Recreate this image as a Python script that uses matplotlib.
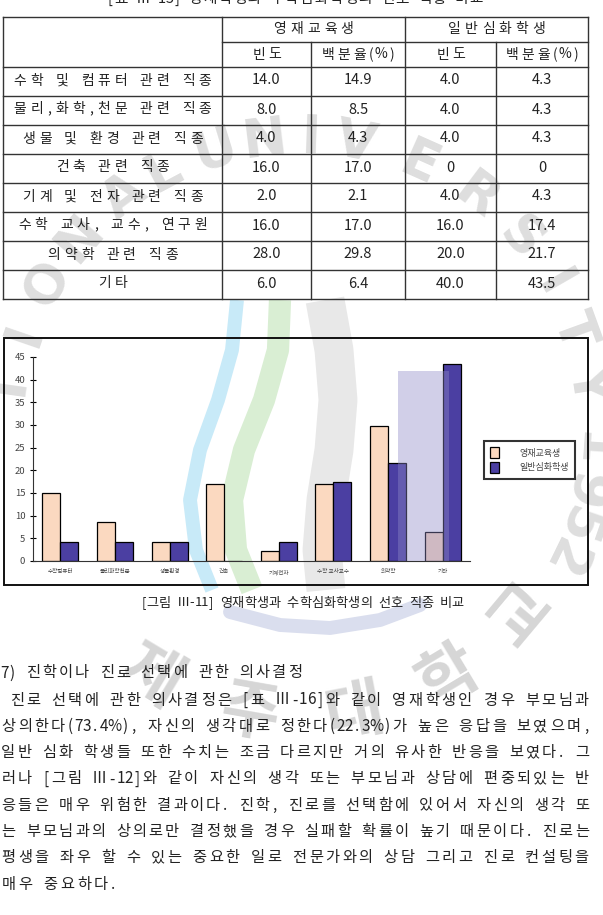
import numpy as np
import matplotlib.pyplot as plt
from matplotlib.patches import Rectangle

plt.rcParams['font.family'] = ['Noto Sans CJK KR', 'DejaVu Sans']

W, H = 603, 915

# ---- data ----
jobs = ['수학 및 컴퓨터 관련 직종', '물리,화학,천문 관련 직종', '생물 및 환경 관련 직종',
        '건축 관련 직종', '기계 및 전자 관련 직종', '수학 교사, 교수, 연구원',
        '의약학 관련 직종', '기타']
short_labels = ['수학컴퓨터', '물리화학천문', '생물환경', '건축', '기계전자',
                '수학 교사교수', '의약학', '기타']
groups = ['영재교육생', '일반심화학생']
sub_heads = ['빈도', '백분율(%)', '빈도', '백분율(%)']
gifted_freq = [14.0, 8.0, 4.0, 16.0, 2.0, 16.0, 28.0, 6.0]
gifted_pct = [14.9, 8.5, 4.3, 17.0, 2.1, 17.0, 29.8, 6.4]
general_freq = [4.0, 4.0, 4.0, 0, 4.0, 16.0, 20.0, 40.0]
general_pct = [4.3, 4.3, 4.3, 0, 4.3, 17.4, 21.7, 43.5]

table_title = '[표 Ⅲ-15] 영재학생과 수학심화학생의 선호 직종 비교'
fig_caption = '[그림 Ⅲ-11] 영재학생과 수학심화학생의 선호 직종 비교'
heading = '7) 진학이나 진로 선택에 관한 의사결정'
body = [
    ' 진로 선택에 관한 의사결정은 [표 Ⅲ-16]와 같이 영재학생인 경우 부모님과',
    '상의한다(73.4%), 자신의 생각대로 정한다(22.3%)가 높은 응답을 보였으며,',
    '일반 심화 학생들 또한 수치는 조금 다르지만 거의 유사한 반응을 보였다. 그',
    '러나 [그림 Ⅲ-12]와 같이 자신의 생각 또는 부모님과 상담에 편중되있는 반',
    '응들은 매우 위험한 결과이다. 진학, 진로를 선택함에 있어서 자신의 생각 또',
    '는 부모님과의 상의로만 결정했을 경우 실패할 확률이 높기 때문이다. 진로는',
    '평생을 좌우 할 수 있는 중요한 일로 전문가와의 상담 그리고 진로 컨설팅을',
    '매우 중요하다.',
]

# background watermark of the scanned page
wm_arc = 'TIONALUNIVERSITY1952'
wm_arc_deg = [172, 161, 150, 139, 127, 118, 107, 97, 88, 79, 66, 53, 41, 30, 20, 9,
              -4, -12, -19, -26]
wm_name = '제주대학교'
wm_name_deg = [-121, -100, -79, -59, -40]

PINK = '#fbd9c0'
NAVY = '#4b3fa2'
INK = '#222222'


def char_w(ch):
    if ch == '%':
        return 0.8
    return 1.0 if ord(ch) >= 0x1100 else 0.5


def grid_text(ax, x, y, s, unit, ha='left', **kw):
    # Gulim-like layout: hangul takes a full cell, ascii half a cell
    total = sum(char_w(c) for c in s) * unit
    if ha == 'center':
        x = x - total / 2
    for ch in s:
        w = char_w(ch) * unit
        if ch != ' ':
            ax.text(x + w / 2, y, ch, ha='center', va='center', **kw)
        x += w


def fmt(v):
    return '0' if v == 0 else f'{v:.1f}'


fig = plt.figure(figsize=(W / 100, H / 100), dpi=100)
page = fig.add_axes([0, 0, 1, 1], zorder=0)
page.set_xlim(0, W)
page.set_ylim(H, 0)
page.axis('off')

# ---- watermark ----
cx, cy = 300, 430
for ch, d in zip(wm_arc, wm_arc_deg):
    a = np.radians(d)
    r = 292
    page.text(cx + r * np.cos(a), cy - r * np.sin(a), ch, fontsize=38, fontweight='bold',
              color='#dedede', ha='center', va='center', rotation=d - 90,
              rotation_mode='anchor', family='DejaVu Sans', zorder=0)
for ch, d in zip(wm_name, wm_name_deg):
    a = np.radians(d)
    r = 288
    page.text(cx + r * np.cos(a), cy - r * np.sin(a), ch, fontsize=46, fontweight='bold',
              color='#d6d6d6', ha='center', va='center', rotation=d + 90,
              rotation_mode='anchor', zorder=0)
blue_y = np.array([300, 350, 400, 450, 500, 550, 590])
page.plot([237, 232, 218, 200, 190, 196, 212], blue_y, color='#c8eaf8', lw=10,
          solid_capstyle='butt', zorder=0)
page.plot([280, 278, 264, 244, 232, 236, 252], blue_y, color='#d9eed3', lw=16,
          solid_capstyle='butt', zorder=0)
page.plot([325, 334, 338, 334, 326, 322, 326], blue_y, color='#e8e8e8', lw=28,
          solid_capstyle='butt', zorder=0)
page.plot([230, 280, 330, 380, 420], [612, 625, 628, 620, 605], color='#dadeee', lw=10,
          solid_capstyle='round', zorder=0)

# ---- table ----
grid_text(page, 295, -1, table_title, 14.8, ha='center', fontsize=10.5, color=INK)

cols = [3, 222, 311, 405, 496, 588]
top, mid, head_bot, row_h = 17, 42, 67, 29
bottom = head_bot + row_h * len(jobs)
lc = '#333333'
page.plot([cols[0], cols[-1]], [top, top], color=lc, lw=1)
page.plot([cols[1], cols[-1]], [mid, mid], color=lc, lw=1)
for i in range(len(jobs) + 1):
    y = head_bot + i * row_h
    page.plot([cols[0], cols[-1]], [y, y], color=lc, lw=1)
for j, x in enumerate(cols):
    y0 = top if j in (0, 1, 3, 5) else mid
    page.plot([x, x], [y0, bottom], color=lc, lw=1)

tfs = 10
grid_text(page, (cols[1] + cols[3]) / 2, (top + mid) / 2, groups[0], 16.8, ha='center', fontsize=tfs, color=INK)
grid_text(page, (cols[3] + cols[5]) / 2, (top + mid) / 2, groups[1], 16.8, ha='center', fontsize=tfs, color=INK)
for j, s in enumerate(sub_heads):
    grid_text(page, (cols[j + 1] + cols[j + 2]) / 2, (mid + head_bot) / 2, s, 15.5,
              ha='center', fontsize=tfs, color=INK)

for i, job in enumerate(jobs):
    yc = head_bot + row_h * (i + 0.5) - 1
    grid_text(page, (cols[0] + cols[1]) / 2, yc, job, 16.8, ha='center', fontsize=tfs, color=INK)
    vals = [gifted_freq[i], gifted_pct[i], general_freq[i], general_pct[i]]
    for j, v in enumerate(vals):
        page.text((cols[j + 1] + cols[j + 2]) / 2, yc, fmt(v), ha='center', va='center',
                  fontsize=10.5, color=INK)

# ---- chart ----
page.add_patch(Rectangle((4, 338), 584, 247, fill=False, ec='#111111', lw=1.4))

ax = fig.add_axes([33 / W, 1 - 561 / H, 437 / W, 204 / H], zorder=2)
ax.patch.set_alpha(0)
x = np.arange(len(short_labels))
bw = 0.33
b1 = ax.bar(x - bw / 2, gifted_pct, bw, color=PINK, edgecolor='black', lw=0.9, label=groups[0])
b2 = ax.bar(x + bw / 2, general_pct, bw, color=NAVY, edgecolor='black', lw=0.9, label=groups[1])
# lavender band of the watermark lying over the last bars
ax.axvspan(6.18, 7.12, ymin=0, ymax=0.93, color='#8d89c6', alpha=0.4, lw=0, zorder=3)
ax.set_xlim(-0.5, len(short_labels) - 0.5)
ax.set_ylim(0, 45)
ax.set_yticks(range(0, 46, 5))
ax.set_xticks(x)
ax.set_xticklabels(short_labels)
for s in ('top', 'right'):
    ax.spines[s].set_visible(False)
for s in ('left', 'bottom'):
    ax.spines[s].set_linewidth(0.8)
    ax.spines[s].set_color('#333333')
ax.tick_params(axis='y', direction='inout', length=5, width=0.8, labelsize=6.8,
               labelcolor='#444444', pad=3)
ax.tick_params(axis='x', length=0, labelsize=4, labelcolor='#444444', pad=6)

leg = fig.legend(handles=[b1, b2], loc='upper left', bbox_to_anchor=(484 / W, 1 - 441 / H),
                 fontsize=6.5, frameon=True, fancybox=False, edgecolor='black',
                 handlelength=1.0, handleheight=1.4, labelspacing=0.5, borderpad=0.7,
                 handletextpad=2.2, borderaxespad=0)
leg.get_frame().set_linewidth(1.5)
for t in leg.get_texts():
    t.set_color('#444444')

grid_text(page, 302, 603, fig_caption, 12.2, ha='center', fontsize=9.5, color=INK)

# ---- body text ----
grid_text(page, 0, 673, heading, 16.4, fontsize=11, color=INK)
for i, line in enumerate(body):
    y = 700 + 26.3 * i
    units = sum(char_w(c) for c in line)
    unit = 590 / units if i < len(body) - 1 else 16.8
    grid_text(page, 0, y, line, unit, fontsize=11, color=INK)

fig.savefig('out.png', dpi=100)
